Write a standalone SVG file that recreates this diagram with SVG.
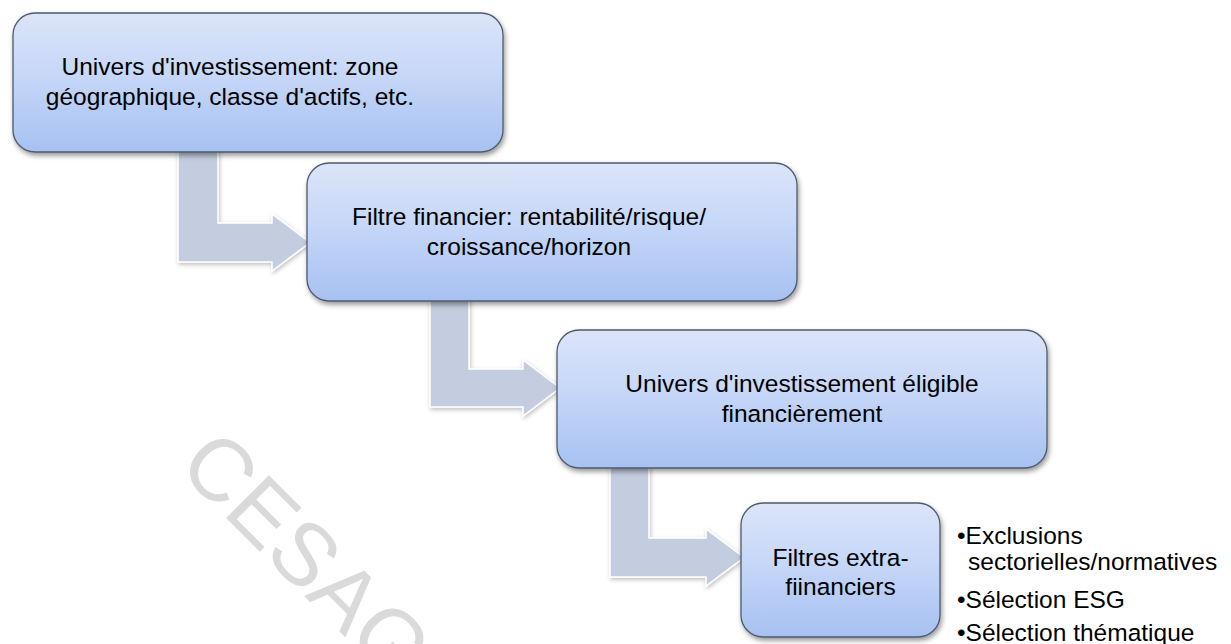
<svg xmlns="http://www.w3.org/2000/svg" width="1231" height="644" viewBox="0 0 1231 644">
  <defs>
    <linearGradient id="boxGrad" x1="0" y1="0" x2="0" y2="1">
      <stop offset="0" stop-color="#DCE4F8"/>
      <stop offset="0.45" stop-color="#C6D7F8"/>
      <stop offset="1" stop-color="#A7C1F1"/>
    </linearGradient>
    <filter id="shadow" x="-10%" y="-10%" width="125%" height="130%">
      <feDropShadow dx="1.5" dy="3" stdDeviation="2.5" flood-color="#000" flood-opacity="0.4"/>
    </filter>
    <filter id="ashadow" x="-10%" y="-10%" width="125%" height="130%">
      <feDropShadow dx="1" dy="2" stdDeviation="2" flood-color="#000" flood-opacity="0.25"/>
    </filter>
  </defs>
  <style>
    .box { fill: url(#boxGrad); stroke: #4E5A6C; stroke-width: 1.3; filter: url(#shadow); }
    .arrow { fill: #C4CDDF; stroke: #FFFFFF; stroke-width: 1.5; filter: url(#ashadow); }
    .t { font-family: "Liberation Sans", Arial, sans-serif; font-size: 24.5px; fill: #000; text-anchor: middle; }
    .b { font-family: "Liberation Sans", Arial, sans-serif; font-size: 24.5px; fill: #000; }
    .wm { font-family: "Liberation Sans", Arial, sans-serif; font-size: 88px; fill: #DADADA; }
  </style>
  <rect width="1231" height="644" fill="#FFFFFF"/>
  <text class="wm" transform="translate(176,468) rotate(45)">CESAG</text>
  <g id="connectors">
    <path class="arrow" d="M178,140 L218,140 L218,223 L272,223 L272,214 L310,242.5 L272,271 L272,262 L178,262 Z"/>
    <path class="arrow" d="M430,290 L469,290 L469,369 L523,369 L523,360 L560,388 L523,416 L523,407 L430,407 Z"/>
    <path class="arrow" d="M610,455 L649,455 L649,538 L706,538 L706,529 L744,557.5 L706,586 L706,577 L610,577 Z"/>
  </g>
  <g id="node1">
    <rect class="box" x="13" y="13" width="490" height="139" rx="22"/>
    <text class="t" x="230" y="75">Univers d'investissement: zone</text>
    <text class="t" x="230" y="105">géographique, classe d'actifs, etc.</text>
  </g>
  <g id="node2">
    <rect class="box" x="307" y="163" width="490" height="138" rx="22"/>
    <text class="t" x="529" y="225">Filtre financier: rentabilité/risque/</text>
    <text class="t" x="529" y="255">croissance/horizon</text>
  </g>
  <g id="node3">
    <rect class="box" x="557" y="330" width="490" height="138" rx="22"/>
    <text class="t" x="802" y="392">Univers d'investissement éligible</text>
    <text class="t" x="802" y="422">financièrement</text>
  </g>
  <g id="node4">
    <rect class="box" x="741" y="503" width="199" height="134" rx="22"/>
    <text class="t" x="840.5" y="566">Filtres extra-</text>
    <text class="t" x="840.5" y="595">fiinanciers</text>
  </g>
  <g id="notes">
    <text class="b" x="957" y="544">•Exclusions</text>
    <text class="b" x="968" y="570">sectorielles/normatives</text>
    <text class="b" x="957" y="608">•Sélection ESG</text>
    <text class="b" x="957" y="641">•Sélection thématique</text>
  </g>
</svg>
